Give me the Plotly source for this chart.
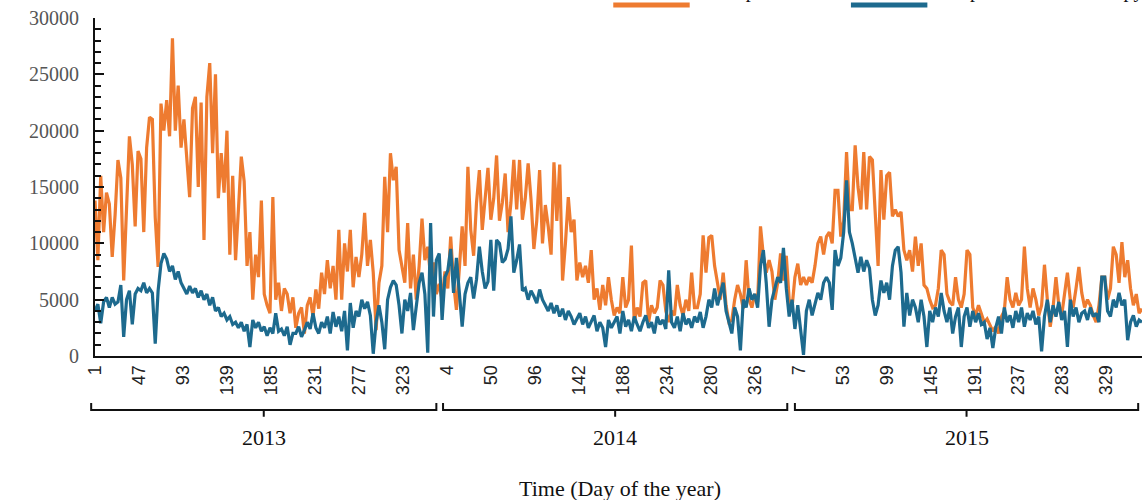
import plotly.graph_objects as go

# Daily series, sampled every third day from 1 Jan 2013 onwards
SAMPLE_STEP = 3

transpiration = [
    13800, 8500, 16000, 11000, 14500, 13500, 8800, 12500, 17400, 15800,
    6700, 12500, 19500, 17000, 11500, 18200, 17500, 11000, 18500, 21200,
    21000, 12300, 7900, 22400, 20000, 22700, 19500, 28200, 20000, 24000,
    18500, 21000, 17000, 14100, 22000, 23000, 15000, 22500, 10300, 23000,
    26000, 18000, 25000, 14000, 18000, 14500, 20000, 9000, 16000, 8500,
    13000, 17700, 15500, 8000, 11000, 5000, 9000, 7000, 13800, 5500,
    4500, 3800, 14100, 5000, 6500, 4000, 6000, 5500, 3800, 5200,
    2500, 3800, 4300, 2000, 4500, 5200, 3500, 5900, 4200, 7400,
    5500, 8500, 6000, 8000, 5000, 11200, 5000, 10000, 7500, 11200,
    6100, 8800, 7000, 9000, 12700, 8000, 10300, 7400, 2300, 6500,
    8000, 15900, 11000, 18000, 15600, 16800, 9400, 8000, 6500, 11800,
    6000, 9000, 5000, 8000, 12200, 8500, 9700, 7000, 8300, 5500,
    6400, 5000, 7500, 6000, 10600, 6500, 4100, 7700, 11500, 8000,
    16800, 11200, 8900, 13600, 16500, 11200, 14000, 16700, 12100, 14000,
    17800, 12000, 13600, 16200, 11000, 13600, 17400, 13000, 17400, 12100,
    14000, 17100, 13900, 9500, 12000, 16500, 10000, 13400, 11500, 9000,
    17200, 12000, 17000, 6700, 10000, 14100, 11000, 12100, 6700, 8300,
    7000, 8000, 6500, 9400, 5000, 6000, 4100, 6300, 4500, 7000,
    5000, 3600, 4300, 3800, 7000, 4300, 5000, 9800, 3000, 4300,
    3500, 6500, 6700, 3000, 4500, 3800, 4300, 6700, 6300, 4000,
    3000, 4000, 3600, 6300, 4500, 3600, 5000, 4000, 7400, 4300,
    4300, 5500, 10700, 7400, 10500, 10700, 8000, 6300, 5000, 7400,
    4500, 3000, 3200, 5000, 6300, 5500, 4200, 8500, 5000, 4300,
    5500, 4800, 11500, 8900, 7400, 8500, 7500, 5000, 6500, 9100,
    6700, 8900, 5000, 4300, 7000, 8200, 6300, 7000, 6300, 7000,
    6500, 8000, 10000, 10600, 9000, 10600, 11000, 10000, 14700, 14700,
    10600, 12000, 18100, 13000, 13000, 18700, 15000, 13000, 18100, 13000,
    17700, 17400, 13000, 8000, 16500, 12100, 16000, 16300, 12400, 13000,
    12400, 12800, 9400, 8500, 9400, 7500, 10600, 8000, 10000, 6300,
    6000, 5000, 4300, 4500, 6000, 9400, 9000, 5500, 4800, 4500,
    7000, 5000, 4300, 5500, 9400, 9000, 4300, 3600, 4500, 3800,
    3000, 3300, 2800, 2200, 2600, 2000, 3500, 4000, 7000, 5000,
    4300, 5600, 4500, 5000, 9700, 6000, 4300, 6000, 5000, 3600,
    4500, 8100, 5000, 2600, 4300, 7000, 4500, 3600, 5500, 7400,
    5000, 4300, 6000, 7900, 5600, 4300, 5000, 4500, 3600, 3000,
    4500, 7000, 7000, 5000, 6000, 9700, 9000, 6500, 10100, 7000,
    8500, 6000, 4500, 5500, 3800, 4200,
]

canopy_evaporation = [
    4000, 4600, 2900, 4800, 5200, 4300, 5200, 4600, 4800, 6300,
    1700, 5000, 5800, 2800, 5500, 6000, 5800, 6500, 5600, 6000,
    5600, 1100, 5800, 8200, 9100, 8600, 7500, 8000, 6800, 7500,
    6500, 6000, 5500, 6200, 5600, 6000, 5200, 5800, 5000, 5500,
    4500, 5200, 4000, 4300, 3500, 3800, 3200, 3500, 2800, 3000,
    2500, 3000, 2200, 2800, 800, 3200, 2500, 3000, 2200, 2600,
    1800, 2500, 2000, 3800, 2200, 2400, 1800, 2600, 1000, 2000,
    2000, 2600, 1700, 2300, 3000, 2400, 3800, 2500, 2000, 3000,
    2500, 3500, 2000, 3900, 2600, 3500, 2200, 4000, 500, 4700,
    2500, 4000, 3500, 5000, 4200, 4800, 3600, 200, 3000, 4500,
    3000, 600, 5000, 6100, 6700, 6300, 4500, 2000, 5000, 4000,
    5600, 2300, 4500, 6500, 7400, 5500, 300, 11800, 3500, 8500,
    9100, 3200, 7000, 7600, 9500, 5600, 8700, 5600, 2600, 5500,
    6500, 7000, 5100, 6800, 9700, 7500, 6000, 6600, 10300, 5800,
    10300, 10000, 8300, 8600, 9500, 12400, 7400, 8500, 9900, 5800,
    6000, 5000, 5800, 5300, 4700, 5900, 5000, 4500, 4000, 4700,
    3800, 4500, 3500, 4200, 3200, 4000, 3500, 2800, 3300, 3800,
    2800, 3500, 2500, 3000, 3600, 2200, 3000, 2500, 800, 3200,
    2500, 3000, 3500, 2000, 4000, 2600, 3200, 2200, 3500, 2800,
    2200, 3000, 3600, 2500, 3000, 2000, 3500, 2800, 3200, 2400,
    7600, 3000, 2500, 3500, 2200, 3800, 2800, 3300, 2500, 3500,
    3000, 3900, 2500, 3500, 5000, 4300, 6000, 4500, 5500, 6500,
    4000, 3000, 2000, 4300, 3500, 500, 5000, 4300, 6000, 5000,
    5500, 4300, 8000, 9400, 6500, 2600, 5000, 6000, 7000, 6500,
    9600, 6000, 3500, 5000, 2400, 4500, 2500, 100, 4000, 5000,
    3600, 4500, 5600, 5000, 6500, 7000, 6500, 4100, 9400, 8000,
    8700, 11000, 15600, 11000, 10000, 8700, 7400, 8800, 7500, 8500,
    7800, 5000, 3600, 4500, 6700, 5600, 6500, 5000, 8000, 9400,
    9700, 7400, 2600, 5600, 3600, 5000, 4300, 3000, 5000, 3500,
    800, 4000, 3000, 4300, 3500, 5600, 4000, 3000, 4300, 2000,
    3500, 4300, 800, 3500, 4300, 2600, 4000, 3000, 3800, 2800,
    3000, 1500, 2500, 700, 2500, 3500, 2000, 4300, 3000, 3600,
    2500, 4000, 3000, 4300, 2600, 3800, 3200, 4000, 2800, 3500,
    400, 3500, 5000, 3000, 4500, 3500, 4800, 3200, 4000, 800,
    5000, 3500, 4300, 3000, 3800, 4000, 3200, 4300, 3500, 3800,
    3000, 7000, 7000, 4000, 3500, 5000, 4300, 5600, 4500, 5000,
    1400, 3000, 3600, 2600, 3200, 3000,
]

years = [2013, 2014, 2015]
year_lengths = [365, 365, 365]
tick_days = {
    2013: [1, 47, 93, 139, 185, 231, 277, 323],
    2014: [4, 50, 96, 142, 188, 234, 280, 326],
    2015: [7, 53, 99, 145, 191, 237, 283, 329],
}
series_names = ["Transpiration", "Evaporation from canopy"]
y_ticks = [0, 5000, 10000, 15000, 20000, 25000, 30000]

ORANGE = "#EE7B30"
BLUE = "#1D6A8E"
SERIF = "Liberation Serif"
SANS = "Liberation Sans"

# Day index (0 = 1 Jan 2013) of each sample
day_index = [i * SAMPLE_STEP for i in range(len(transpiration))]

year_start = {}
acc = 0
for y, n in zip(years, year_lengths):
    year_start[y] = acc
    acc += n

tickvals, ticktext = [], []
for y in years:
    for d in tick_days[y]:
        tickvals.append(year_start[y] + d - 1)
        ticktext.append(str(d))

X0, X1 = 0, 1095


def xp(idx):
    return (idx - X0) / (X1 - X0)


fig = go.Figure()
fig.add_trace(go.Scatter(x=day_index, y=transpiration, mode="lines",
                         name=series_names[0],
                         line=dict(color=ORANGE, width=3.2)))
fig.add_trace(go.Scatter(x=day_index, y=canopy_evaporation, mode="lines",
                         name=series_names[1],
                         line=dict(color=BLUE, width=3.2)))

shapes = []
annotations = []
# Year brackets under the day labels
yb, yh, yc = -0.160, -0.139, -0.180
for k, y in enumerate(years):
    s = year_start[y]
    left = xp(s - 4 + 3 * k)
    right = xp(s + 357 + 2 * k)
    mid = (left + right) / 2
    path = (f"M {left},{yh} L {left},{yb} L {right},{yb} L {right},{yh} "
            f"M {mid},{yb} L {mid},{yc}")
    shapes.append(dict(type="path", xref="paper", yref="paper", path=path,
                       line=dict(color="#111111", width=2)))
    annotations.append(dict(x=mid, y=-0.240, xref="paper", yref="paper",
                            text=str(y), showarrow=False, xanchor="center",
                            yanchor="middle",
                            font=dict(family=SERIF, size=22, color="#111111")))

annotations.append(dict(x=0.501, y=-0.392, xref="paper", yref="paper",
                        text="Time (Day of the year)", showarrow=False,
                        xanchor="center", yanchor="middle",
                        font=dict(family=SERIF, size=22, color="#111111")))

# Legend keys along the top edge
legend_items = [(0.495, 0.568, ORANGE, series_names[0]),
                (0.722, 0.795, BLUE, series_names[1])]
for x_a, x_b, col, name in legend_items:
    shapes.append(dict(type="line", xref="paper", yref="paper",
                       x0=x_a, x1=x_b, y0=1.0385, y1=1.0385,
                       line=dict(color=col, width=5)))
    annotations.append(dict(x=x_b + 0.01, y=1.045, xref="paper", yref="paper",
                            text=name, showarrow=False, xanchor="left",
                            yanchor="bottom", borderpad=0,
                            font=dict(family=SERIF, size=20, color="#111111")))

fig.update_layout(
    width=1142, height=500,
    margin=dict(l=95, r=0, t=18, b=144),
    paper_bgcolor="white", plot_bgcolor="white",
    showlegend=False,
    shapes=shapes, annotations=annotations,
    xaxis=dict(range=[X0, X1], tickmode="array", tickvals=tickvals,
               ticktext=ticktext, tickangle=-90, ticks="",
               tickfont=dict(family=SANS, size=18, color="#222222"),
               showline=True, linecolor="#111111", linewidth=2,
               showgrid=False, zeroline=False),
    yaxis=dict(range=[0, 30000], tickmode="array", tickvals=y_ticks,
               tickformat="d",
               ticks="inside", ticklen=9, tickwidth=1.5, tickcolor="#111111",
               minor=dict(dtick=1000, ticks="inside", ticklen=6,
                          tickwidth=1.5, tickcolor="#111111"),
               ticklabelstandoff=10,
               tickfont=dict(family=SERIF, size=20, color="#555555"),
               showline=True, linecolor="#111111", linewidth=2,
               showgrid=False, zeroline=False),
)

fig.write_html("out.html")
